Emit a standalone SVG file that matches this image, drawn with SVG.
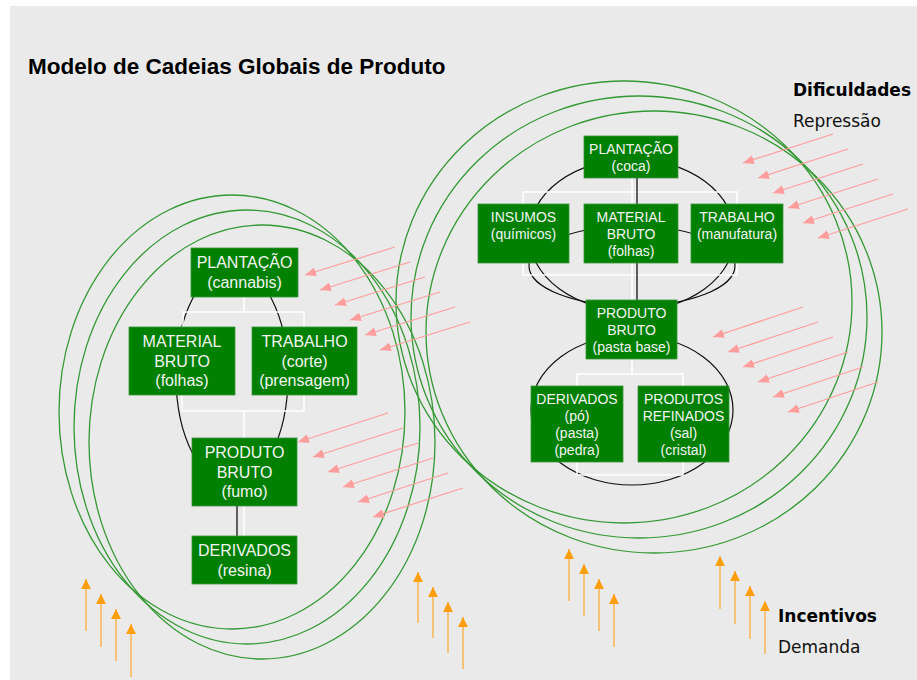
<svg xmlns="http://www.w3.org/2000/svg" width="917" height="680" viewBox="0 0 917 680">
<style>
.bg{fill:#eaeaea}
.ring{fill:none;stroke:#339933;stroke-width:1.3}
.loop{fill:none;stroke:#111;stroke-width:1.2}
.wire{fill:none;stroke:#fff;stroke-width:1.5}
.blk{fill:none;stroke:#111;stroke-width:1.3}
.box{fill:#008000;stroke:#3a963a;stroke-width:0.8}
.lt{font-family:"Liberation Sans",Arial,sans-serif;font-size:16px;fill:#f4f4f4;text-anchor:middle}
.rt{font-family:"Liberation Sans",Arial,sans-serif;font-size:14px;fill:#f4f4f4;text-anchor:middle}
.title{font-family:"Liberation Sans",Arial,sans-serif;font-size:22.5px;font-weight:bold;fill:#000}
.side{font-family:"DejaVu Sans",Verdana,sans-serif;font-size:17px;fill:#111}
.sideb{font-family:"DejaVu Sans",Verdana,sans-serif;font-size:17px;font-weight:bold;fill:#000}
.red{stroke:#ff9c9c;stroke-width:1.2;marker-end:url(#rh)}
.org{stroke:#f9b552;stroke-width:1.5;marker-end:url(#oh)}
</style>
<defs>
<marker id="rh" markerUnits="userSpaceOnUse" markerWidth="13" markerHeight="11" refX="11" refY="5" orient="auto">
<path d="M0,0.5 L11,5 L0,9.5 z" fill="#ff9c9c"/>
</marker>
<marker id="oh" markerUnits="userSpaceOnUse" markerWidth="13" markerHeight="12" refX="10" refY="5.5" orient="auto">
<path d="M0,0.5 L10,5.5 L0,10.5 z" fill="#ff9f10"/>
</marker>
</defs>
<rect class="bg" x="10" y="6" width="907" height="674"/>
<text class="title" x="28" y="74">Modelo de Cadeias Globais de Produto</text>

<g id="rings">
<ellipse class="ring" cx="232" cy="412" rx="173" ry="217"/>
<ellipse class="ring" cx="247" cy="427" rx="173" ry="217"/>
<ellipse class="ring" cx="262" cy="442" rx="173" ry="217"/>
<ellipse class="ring" cx="624" cy="302" rx="228" ry="221"/>
<ellipse class="ring" cx="639" cy="317" rx="228" ry="221"/>
<ellipse class="ring" cx="654" cy="332" rx="228" ry="221"/>
</g>

<g id="connectors">
<ellipse class="loop" cx="232" cy="376" rx="56" ry="109"/>
<ellipse class="loop" cx="632" cy="235" rx="103" ry="76"/>
<ellipse class="loop" cx="632" cy="266" rx="103" ry="40"/>
<ellipse class="loop" cx="632" cy="410" rx="101" ry="75"/>
<path class="wire" d="M244,297 V312 M183,327 V312 H304 V327 M182,395 V411 H304 V395 M244,411 V438 M244,506 V536"/>
<line class="blk" x1="237" y1="506" x2="237" y2="536"/>
<path class="wire" d="M632,178 V192 M523,204 V192 H737 V204 M632,192 V204 M523,263 V275 H737 V263 M632,263 V300 M632,359 V374 M577,386 V374 H683 V386 M577,462 V475 H683 V462"/>
<path class="blk" d="M637,178 V204 M637,263 V300"/>
</g>

<g id="n-plantacao-cannabis"><rect class="box" x="191" y="248" width="107" height="49"/><text class="lt" x="244.5" y="268">PLANTAÇÃO</text><text class="lt" x="244.5" y="287.5">(cannabis)</text></g>
<g id="n-material-cannabis"><rect class="box" x="129" y="327" width="106" height="68"/><text class="lt" x="182" y="347">MATERIAL</text><text class="lt" x="182" y="366.5">BRUTO</text><text class="lt" x="182" y="386">(folhas)</text></g>
<g id="n-trabalho-cannabis"><rect class="box" x="252" y="327" width="105" height="68"/><text class="lt" x="304.5" y="347">TRABALHO</text><text class="lt" x="304.5" y="366.5">(corte)</text><text class="lt" x="304.5" y="386">(prensagem)</text></g>
<g id="n-produto-cannabis"><rect class="box" x="192" y="438" width="105" height="68"/><text class="lt" x="244.5" y="458">PRODUTO</text><text class="lt" x="244.5" y="477.5">BRUTO</text><text class="lt" x="244.5" y="497">(fumo)</text></g>
<g id="n-derivados-cannabis"><rect class="box" x="192" y="536" width="105" height="48"/><text class="lt" x="244.5" y="556">DERIVADOS</text><text class="lt" x="244.5" y="575.5">(resina)</text></g>

<g id="n-plantacao-coca"><rect class="box" x="584" y="136" width="94" height="42"/><text class="rt" x="631" y="153.5">PLANTAÇÃO</text><text class="rt" x="631" y="170.5">(coca)</text></g>
<g id="n-insumos-coca"><rect class="box" x="478" y="204" width="91" height="59"/><text class="rt" x="523.5" y="221.5">INSUMOS</text><text class="rt" x="523.5" y="238.5">(químicos)</text></g>
<g id="n-material-coca"><rect class="box" x="584" y="204" width="94" height="59"/><text class="rt" x="631" y="221.5">MATERIAL</text><text class="rt" x="631" y="238.5">BRUTO</text><text class="rt" x="631" y="255.5">(folhas)</text></g>
<g id="n-trabalho-coca"><rect class="box" x="691" y="204" width="92" height="59"/><text class="rt" x="737" y="221.5">TRABALHO</text><text class="rt" x="737" y="238.5">(manufatura)</text></g>
<g id="n-produto-coca"><rect class="box" x="586" y="300" width="91" height="59"/><text class="rt" x="631.5" y="317.5">PRODUTO</text><text class="rt" x="631.5" y="334.5">BRUTO</text><text class="rt" x="631.5" y="351.5">(pasta base)</text></g>
<g id="n-derivados-coca"><rect class="box" x="531" y="386" width="92" height="76"/><text class="rt" x="577" y="403.5">DERIVADOS</text><text class="rt" x="577" y="420.5">(pó)</text><text class="rt" x="577" y="437.5">(pasta)</text><text class="rt" x="577" y="454.5">(pedra)</text></g>
<g id="n-refinados-coca"><rect class="box" x="638" y="386" width="91" height="76"/><text class="rt" x="683.5" y="403.5">PRODUTOS</text><text class="rt" x="683.5" y="420.5">REFINADOS</text><text class="rt" x="683.5" y="437.5">(sal)</text><text class="rt" x="683.5" y="454.5">(cristal)</text></g>

<g id="repressao-arrows">
<line class="red" x1="395" y1="247" x2="305" y2="275"/>
<line class="red" x1="410" y1="262" x2="320" y2="290"/>
<line class="red" x1="425" y1="277" x2="335" y2="305"/>
<line class="red" x1="440" y1="292" x2="350" y2="320"/>
<line class="red" x1="455" y1="307" x2="365" y2="335"/>
<line class="red" x1="470" y1="322" x2="380" y2="350"/>
<line class="red" x1="388" y1="413" x2="298" y2="442"/>
<line class="red" x1="403" y1="428" x2="313" y2="457"/>
<line class="red" x1="418" y1="443" x2="328" y2="472"/>
<line class="red" x1="433" y1="458" x2="343" y2="487"/>
<line class="red" x1="448" y1="473" x2="358" y2="502"/>
<line class="red" x1="463" y1="488" x2="373" y2="517"/>
<line class="red" x1="833" y1="134" x2="743" y2="163"/>
<line class="red" x1="848" y1="149" x2="758" y2="178"/>
<line class="red" x1="863" y1="164" x2="773" y2="193"/>
<line class="red" x1="878" y1="179" x2="788" y2="208"/>
<line class="red" x1="893" y1="194" x2="803" y2="223"/>
<line class="red" x1="908" y1="209" x2="818" y2="238"/>
<line class="red" x1="803" y1="307" x2="713" y2="337"/>
<line class="red" x1="818" y1="322" x2="728" y2="352"/>
<line class="red" x1="833" y1="337" x2="743" y2="367"/>
<line class="red" x1="848" y1="352" x2="758" y2="382"/>
<line class="red" x1="863" y1="367" x2="773" y2="397"/>
<line class="red" x1="878" y1="382" x2="788" y2="412"/>
</g>

<g id="demanda-arrows">
<line class="org" x1="86" y1="631" x2="86" y2="579"/>
<line class="org" x1="101" y1="647" x2="101" y2="594"/>
<line class="org" x1="116" y1="661" x2="116" y2="609"/>
<line class="org" x1="131" y1="677" x2="131" y2="624"/>
<line class="org" x1="418" y1="623" x2="418" y2="572"/>
<line class="org" x1="433" y1="638" x2="433" y2="587"/>
<line class="org" x1="448" y1="653" x2="448" y2="602"/>
<line class="org" x1="463" y1="669" x2="463" y2="617"/>
<line class="org" x1="569" y1="601" x2="569" y2="549"/>
<line class="org" x1="584" y1="616" x2="584" y2="564"/>
<line class="org" x1="599" y1="631" x2="599" y2="579"/>
<line class="org" x1="614" y1="647" x2="614" y2="594"/>
<line class="org" x1="720" y1="609" x2="720" y2="556"/>
<line class="org" x1="735" y1="624" x2="735" y2="571"/>
<line class="org" x1="750" y1="639" x2="750" y2="586"/>
<line class="org" x1="765" y1="654" x2="765" y2="601"/>
</g>

<g id="legend">
<text class="sideb" x="793" y="96">Dificuldades</text>
<text class="side" x="793" y="127">Repressão</text>
<text class="sideb" x="778" y="622">Incentivos</text>
<text class="side" x="778" y="653">Demanda</text>
</g>
</svg>
